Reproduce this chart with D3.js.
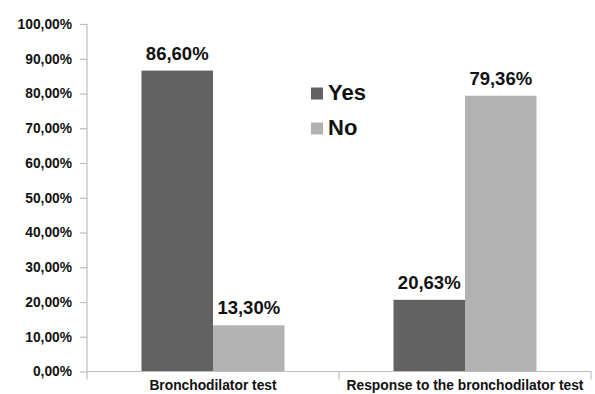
<!DOCTYPE html>
<html><head><meta charset="utf-8">
<script src="https://cdn.jsdelivr.net/npm/d3@7"></script>
<style>body{margin:0;background:#fff}svg{display:block}text{font-family:"Liberation Sans",Arial,sans-serif;font-weight:bold}</style>
</head><body><div id="c"></div>
<script>
const categories = ["Bronchodilator test", "Response to the bronchodilator test"];
const seriesNames = ["Yes", "No"];
const yesValues = [86.60, 20.63];
const noValues = [13.30, 79.36];
const yTicks = [0,10,20,30,40,50,60,70,80,90,100];
const colors = {Yes:"#626262", No:"#b2b2b2"};

const W=595,H=394, L=87, R=591, T=24, B=371.5;
const fmt = v => v.toFixed(2).replace(".", ",") + "%";
const svg = d3.select("#c").append("svg").attr("width",W).attr("height",H);

const y = d3.scaleLinear().domain([0,100]).range([B,T]);
const x = d3.scaleBand().domain(categories).range([L,R]).padding(0);
const xs = d3.scaleBand().domain(seriesNames).range([0,x.bandwidth()]).paddingInner(0).paddingOuter(0.762);

const data = categories.map((c,i)=>({cat:c, vals:[{s:"Yes",v:yesValues[i]},{s:"No",v:noValues[i]}]}));

// bars
const g = svg.selectAll("g.cat").data(data).join("g").attr("transform",d=>`translate(${x(d.cat)},0)`);
g.selectAll("rect").data(d=>d.vals).join("rect")
  .attr("x",d=>xs(d.s)).attr("width",xs.bandwidth())
  .attr("y",d=>y(d.v)).attr("height",d=>B-y(d.v)).attr("fill",d=>colors[d.s]);
g.selectAll("text.val").data(d=>d.vals).join("text").attr("class","val")
  .attr("x",d=>xs(d.s)+xs.bandwidth()/2).attr("y",d=>y(d.v)-11)
  .attr("text-anchor","middle").attr("font-size",18.5).attr("fill","#111")
  .text(d=>fmt(d.v));

// y axis
const ya = svg.append("g").attr("transform",`translate(${L},0)`)
  .call(d3.axisLeft(y).tickValues(yTicks).tickSize(7).tickPadding(8).tickFormat(fmt));
ya.selectAll("path,line").attr("stroke","#bdbdbd").attr("stroke-width",1.2);
ya.select("path").attr("d",`M0,${T}V${B}`);
ya.selectAll("text").attr("font-size",13.8).attr("fill","#111").attr("font-family","Liberation Sans, Arial, sans-serif").attr("font-weight","bold");

// x axis
const xa = svg.append("g").attr("transform",`translate(0,${B})`);
xa.append("line").attr("x1",L).attr("x2",R).attr("stroke","#bdbdbd").attr("stroke-width",1.2);
const bounds = [L, ...categories.slice(1).map(c=>x(c)), R];
xa.selectAll("line.t").data(bounds).join("line").attr("class","t")
  .attr("x1",d=>d).attr("x2",d=>d).attr("y1",0).attr("y2",8).attr("stroke","#bdbdbd").attr("stroke-width",1.2);
xa.selectAll("text").data(categories).join("text")
  .attr("x",d=>x(d)+x.bandwidth()/2).attr("y",18.5).attr("text-anchor","middle")
  .attr("font-size",13.8).attr("fill","#111").text(d=>d);

// legend
const lg = svg.append("g").attr("transform","translate(311,0)");
const ly = d3.scaleOrdinal().domain(seriesNames).range([99.5,134.5]);
lg.selectAll("rect").data(seriesNames).join("rect")
  .attr("x",0).attr("y",d=>ly(d)-12).attr("width",12).attr("height",12).attr("fill",d=>colors[d]);
lg.selectAll("text").data(seriesNames).join("text")
  .attr("x",17).attr("y",d=>ly(d)).attr("font-size",22).attr("fill","#111").text(d=>d);
</script></body></html>
